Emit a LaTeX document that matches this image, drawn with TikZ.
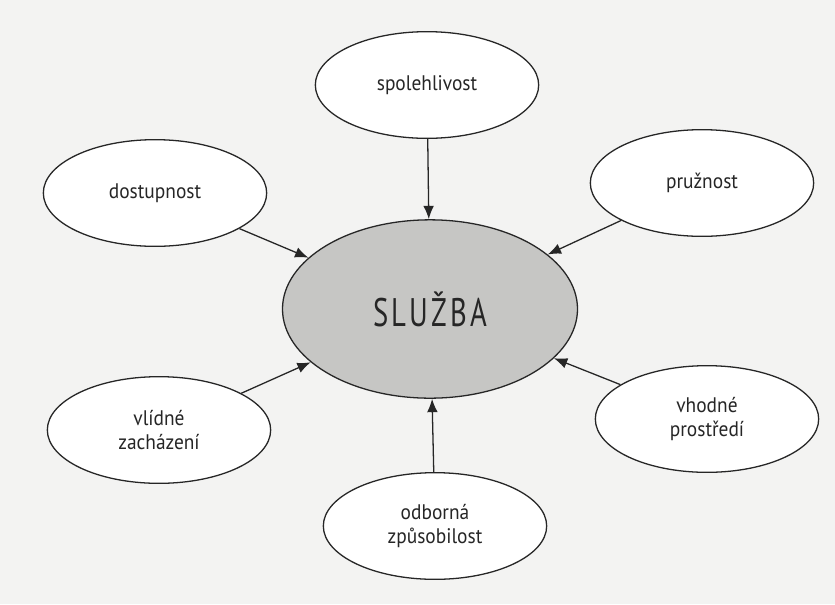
\documentclass[tikz,border=0pt]{standalone}
\usepackage{fontspec}
\setmainfont[FakeStretch=0.92]{PT Sans}
\newfontfamily\spaced[LetterSpace=8,FakeStretch=0.72]{PT Sans}
\usetikzlibrary{arrows.meta,shapes.geometric,positioning}

\definecolor{paper}{HTML}{F3F3F2}
\definecolor{ink}{HTML}{262626}
\definecolor{core}{HTML}{C6C6C4}

\begin{document}
\begin{tikzpicture}[x=0.03cm,y=-0.03cm,->,>={Latex[length=4mm,width=3.2mm]},
                    line width=1.1pt,draw=ink]
  \tikzstyle{every node}=[text=ink,font=\fontsize{18}{21}\selectfont]
  \tikzstyle{factor}=[ellipse,draw=ink,fill=white,inner sep=0pt,
                      minimum width=6.7cm,minimum height=3.2cm,align=center]

  \fill[paper] (0,0) rectangle (835,604);
  \useasboundingbox (0,0) rectangle (835,604);

  \node[ellipse,draw=ink,fill=core,inner sep=0pt,minimum width=8.85cm,
        minimum height=5.35cm,font=\spaced\fontsize{34}{40}\selectfont]
        (S) at (430,309) {SLUŽBA};

  \node[factor] (spol) at (427,85)  {spolehlivost};
  \node[factor] (dost) at (155,193) {dostupnost};
  \node[factor] (pruz) at (702,183) {pružnost};
  \node[factor] (vlid) at (159,430) {vlídné\\zacházení};
  \node[factor] (vhod) at (707,419) {vhodné\\prostředí};
  \node[factor] (odb)  at (435,526) {odborná\\způsobilost};

  \path (spol) edge (S)
        (dost) edge (S)
        (pruz) edge (S)
        (vlid) edge (S)
        (vhod) edge (S)
        (odb)  edge (S);
\end{tikzpicture}
\end{document}
